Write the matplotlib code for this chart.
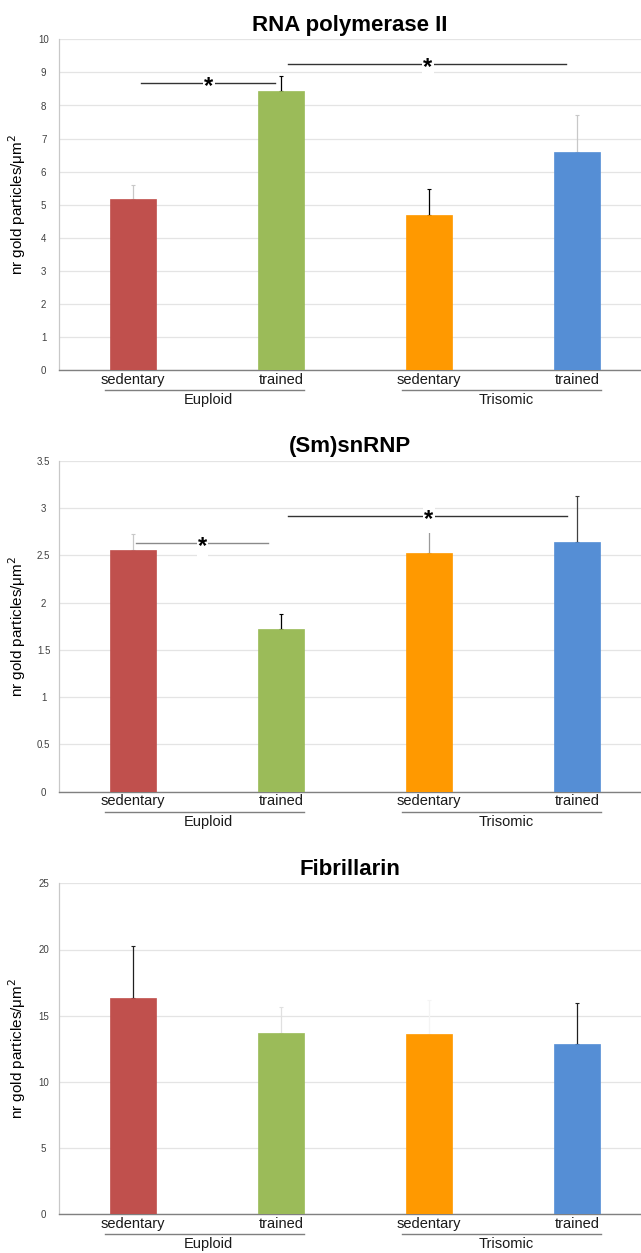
import matplotlib
matplotlib.use("Agg")
import matplotlib.pyplot as plt
from matplotlib.transforms import blended_transform_factory

plt.rcParams['font.family'] = ['Liberation Sans', 'DejaVu Sans']

# ---- data ----
categories = ["sedentary", "trained", "sedentary", "trained"]
groups = ["Euploid", "Trisomic"]
colors = ["#C0504D", "#9BBB59", "#FF9900", "#558ED5"]

titles = ["RNA polymerase II", "(Sm)snRNP", "Fibrillarin"]

rnapol_means = [5.19, 8.44, 4.69, 6.60]
rnapol_err = [0.42, 0.45, 0.80, 1.11]

snrnp_means = [2.554, 1.717, 2.526, 2.639]
snrnp_err = [0.173, 0.166, 0.257, 0.484]

fib_means = [16.31, 13.72, 13.64, 12.86]
fib_err = [3.94, 1.91, 2.56, 3.09]

yticks_list = [list(range(0, 11, 1)),
               [0, 0.5, 1, 1.5, 2, 2.5, 3, 3.5],
               [0, 5, 10, 15, 20, 25]]
ytick_labels = [[str(v) for v in yticks_list[0]],
                ["0", "0.5", "1", "1.5", "2", "2.5", "3", "3.5"],
                [str(v) for v in yticks_list[2]]]

# significance brackets: (x_start, x_end, y, star_x, color)
sig_rnapol = [(0.057, 0.957, 8.67, 0.512, "#333333"),
              (1.045, 2.924, 9.26, 1.993, "#333333")]
sig_snrnp = [(0.017, 0.913, 2.628, 0.471, "#8a8a8a"),
             (1.048, 2.932, 2.911, 1.999, "#333333")]
sig_fib = []

err_colors = [["#c8c8c8", "#000000", "#000000", "#c8c8c8"],
              ["#c8c8c8", "#000000", "#9a9a9a", "#404040"],
              ["#202020", "#e0e0e0", "#f4f4f4", "#202020"]]

means_all = [rnapol_means, snrnp_means, fib_means]
errs_all = [rnapol_err, snrnp_err, fib_err]
sigs_all = [sig_rnapol, sig_snrnp, sig_fib]

# ---- layout ----
W, H = 641, 1253
fig = plt.figure(figsize=(W / 100, H / 100), dpi=100)

ax_left = 59
ax_h = 331
tops = [39.3, 460.7, 883.3]
positions = [0, 1, 2, 3]
bar_w = 0.31

for i in range(3):
    top = tops[i]
    ax = fig.add_axes([ax_left / W, 1 - (top + ax_h) / H, (W - ax_left) / W, ax_h / H])
    means = means_all[i]
    errs = errs_all[i]
    ax.bar(positions, means, width=bar_w, color=colors, zorder=3,
           edgecolor=colors, linewidth=0.5)
    for j, (p, m, e) in enumerate(zip(positions, means, errs)):
        ax.errorbar([p], [m], yerr=[[0], [e]], fmt='none', ecolor=err_colors[i][j],
                    elinewidth=0.9, capsize=1.5, capthick=0.8, zorder=2)
    ax.set_xlim(-0.5, 3.5 - 10 / 148)
    ax.set_ylim(yticks_list[i][0], yticks_list[i][-1])
    ax.set_yticks(yticks_list[i])
    ax.set_yticklabels(ytick_labels[i])
    ax.set_xticks(positions)
    ax.set_xticklabels(categories, fontsize=10.5, color="#1a1a1a")
    ax.tick_params(axis='y', length=0, labelsize=7, pad=11, labelcolor="#404040")
    ax.tick_params(axis='x', length=0, pad=2)
    for lab in ax.get_yticklabels():
        lab.set_horizontalalignment('center')
    ax.grid(axis='y', color="#e4e4e4", linewidth=0.9, zorder=0)
    ax.set_axisbelow(True)
    for s in ['top', 'right']:
        ax.spines[s].set_visible(False)
    ax.spines['left'].set_color("#c8c8c8")
    ax.spines['left'].set_linewidth(0.9)
    ax.spines['bottom'].set_color("#808080")
    ax.spines['bottom'].set_linewidth(1.0)
    ax.set_ylabel("nr gold particles/\u03bcm$^2$", fontsize=11)
    ax.yaxis.set_label_coords(-(ax_left - 28) / (W - ax_left), 0.5)
    ax.set_title(titles[i], fontsize=16, fontweight='bold', pad=6)

    # group underlines and labels
    trans = blended_transform_factory(ax.transData, ax.transAxes)
    line_y = -20 / ax_h
    lab_y = -30 / ax_h
    for (x0, x1), gx, g in zip([(-0.189, 1.156), (1.819, 3.164)], [0.507, 2.52], groups):
        ax.plot([x0, x1], [line_y, line_y], color="#7f7f7f", linewidth=1.0,
                transform=trans, clip_on=False)
        ax.text(gx, lab_y, g, transform=trans, ha='center', va='center',
                fontsize=10.5, color="#1a1a1a")

    # significance
    for (x0, x1, y, sx, c) in sigs_all[i]:
        ax.plot([x0, x1], [y, y], color=c, linewidth=1.0, zorder=4)
        ax.annotate("*", xy=(sx, y), xytext=(0, -2.5), textcoords='offset points',
                    ha='center', va='center', fontsize=17, fontweight='bold', zorder=5,
                    bbox=dict(boxstyle='square,pad=0.05', fc='white', ec='none'))

fig.savefig("out.png", dpi=100)
